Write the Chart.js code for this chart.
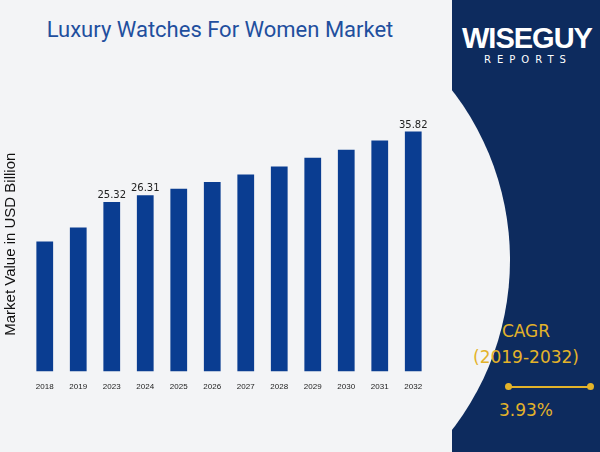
<!DOCTYPE html>
<html>
<head>
<meta charset="utf-8">
<script src="https://cdn.jsdelivr.net/npm/chart.js@4"></script>
<style>
body { margin: 0; width: 600px; height: 452px; overflow: hidden; font-family: "DejaVu Sans", sans-serif; background: #f3f4f6; position: relative; }
#panel { position: absolute; left: 452px; top: 0; width: 148px; height: 452px; background: #0d2b5e; }
#bulge { position: absolute; left: -46px; top: -18px; width: 556px; height: 556px; border-radius: 50%; background: #f3f4f6; }
#title { position: absolute; left: 0; width: 440px; top: 17px; text-align: center; font-family: "Liberation Sans Narrow", "Roboto", sans-serif; font-size: 22px; color: #1f4f9e; }
#chartBox { position: absolute; left: 0; top: 117px; width: 440px; height: 278px; }
.gold { position: absolute; color: #e3b32a; font-size: 17px; text-align: center; width: 148px; left: 452px; }
#logo { position: absolute; left: 462px; top: 22px; color: #fff; font-size: 29px; font-weight: bold; letter-spacing: -1px; font-family: "Liberation Sans Narrow", sans-serif; }
#logo2 { position: absolute; left: 484px; top: 54px; color: #fff; font-size: 10px; letter-spacing: 6px; }
#line { position: absolute; left: 508px; top: 386px; width: 82px; height: 2px; background: #e3b32a; }
.dot { position: absolute; top: 383px; width: 7px; height: 7px; border-radius: 50%; background: #e3b32a; }
</style>
</head>
<body>
<div id="panel"></div>
<div id="bulge"></div>
<div id="title">Luxury Watches For Women Market</div>
<div id="logo">WISEGUY</div>
<div id="logo2">REPORTS</div>
<div class="gold" style="top:321px">CAGR</div>
<div class="gold" style="top:347px">(2019-2032)</div>
<div id="line"></div>
<div class="dot" style="left:505px"></div>
<div class="dot" style="left:587px"></div>
<div class="gold" style="top:400px">3.93%</div>
<div id="chartBox"><canvas id="c"></canvas></div>
<script>
const years = ["2018","2019","2023","2024","2025","2026","2027","2028","2029","2030","2031","2032"];
const values = [19.4, 21.5, 25.32, 26.31, 27.3, 28.3, 29.4, 30.6, 31.9, 33.1, 34.5, 35.82];
const labelled = ["2023","2024","2032"];

const valueLabels = {
    id: "valueLabels",
    afterDatasetsDraw(chart) {
        let ctx = chart.ctx;
        let meta = chart.getDatasetMeta(0);
        ctx.save();
        ctx.font = "10px 'DejaVu Sans'";
        ctx.fillStyle = "#222";
        ctx.textAlign = "center";
        meta.data.forEach((bar, i) => {
            if (labelled.includes(years[i])) {
                ctx.fillText(values[i].toFixed(2), bar.x, bar.y - 4);
            }
        });
        ctx.restore();
    }
};

new Chart(document.getElementById("c"), {
    type: "bar",
    data: {
        labels: years,
        datasets: [{ data: values, backgroundColor: "#0a3d91", barPercentage: 0.5, categoryPercentage: 1 }]
    },
    options: {
        responsive: true,
        maintainAspectRatio: false,
        animation: false,
        layout: { padding: { left: 2, right: 10, top: 0, bottom: 0 } },
        plugins: { legend: { display: false }, tooltip: { enabled: false } },
        scales: {
            x: {
                grid: { display: false },
                border: { display: false },
                ticks: { color: "#222", font: { size: 8 } }
            },
            y: {
                min: 0, max: 38,
                grid: { display: false },
                border: { display: false },
                ticks: { display: false },
                title: { display: true, text: "Market Value in USD Billion", color: "#111", font: { size: 15 }, padding: { top: 0, bottom: 0 } }
            }
        }
    },
    plugins: [valueLabels]
});
</script>
</body>
</html>
